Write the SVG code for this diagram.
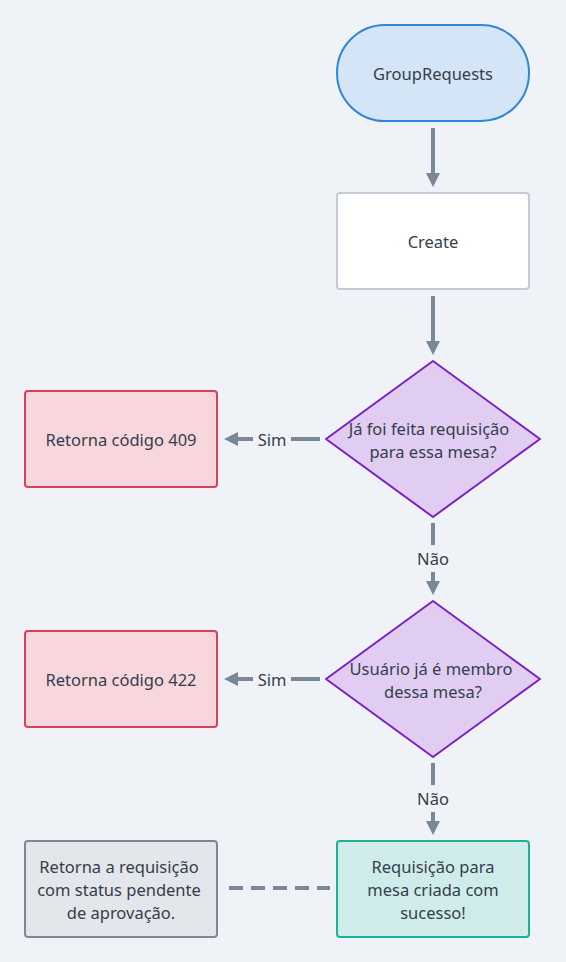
<svg xmlns="http://www.w3.org/2000/svg" width="566" height="962" viewBox="0 0 566 962">
<defs>
<style>
text{font-family:"Noto Sans","Liberation Sans",sans-serif;font-size:16.5px;fill:#343e4b;text-anchor:middle;dominant-baseline:central}
.e{stroke:#7a8796;stroke-width:4;fill:none}
</style>
<marker id="ah" viewBox="0 0 10 10" refX="5" refY="5" markerWidth="3.5" markerHeight="3.5" orient="auto" markerUnits="strokeWidth">
<path d="M0,0 L10,5 L0,10 Z" fill="#7a8796"/>
</marker>
</defs>
<rect width="566" height="962" fill="#eff3f7"/>
<g id="connectors">
<line class="e" x1="433" y1="128" x2="433" y2="180" marker-end="url(#ah)"/>
<line class="e" x1="433" y1="296" x2="433" y2="348" marker-end="url(#ah)"/>
<line class="e" x1="320" y1="439" x2="291" y2="439"/>
<line class="e" x1="253" y1="439" x2="231" y2="439" marker-end="url(#ah)"/>
<text x="272" y="439">Sim</text>
<line class="e" x1="433" y1="523" x2="433" y2="545"/>
<line class="e" x1="433" y1="572" x2="433" y2="588" marker-end="url(#ah)"/>
<text x="433" y="558">Não</text>
<line class="e" x1="320" y1="679" x2="291" y2="679"/>
<line class="e" x1="253" y1="679" x2="231" y2="679" marker-end="url(#ah)"/>
<text x="272" y="679">Sim</text>
<line class="e" x1="433" y1="763" x2="433" y2="785"/>
<line class="e" x1="433" y1="812" x2="433" y2="828" marker-end="url(#ah)"/>
<text x="433" y="798">Não</text>
<line class="e" x1="229" y1="888" x2="330" y2="888" stroke-dasharray="14,8"/>
</g>
<g id="n-grouprequests">
<rect x="337" y="25" width="192" height="96" rx="48" fill="#d3e5f7" stroke="#2f86d6" stroke-width="2"/>
<text x="433" y="73">GroupRequests</text>
</g>
<g id="n-create">
<rect x="337" y="193" width="192" height="96" rx="3" fill="#ffffff" stroke="#c1ccd8" stroke-width="2"/>
<text x="433" y="241">Create</text>
</g>
<g id="n-d1">
<path d="M433,361 L540,439 L433,517 L326,439 Z" fill="#e2cdf2" stroke="#7b1fc6" stroke-width="2" stroke-linejoin="round"/>
<text x="429" y="428">Já foi feita requisição</text>
<text x="433" y="451">para essa mesa?</text>
</g>
<g id="n-409">
<rect x="25" y="391" width="192" height="96" rx="3" fill="#f8d7dc" stroke="#d8415b" stroke-width="2"/>
<text x="121" y="439">Retorna código 409</text>
</g>
<g id="n-d2">
<path d="M433,601 L540,679 L433,757 L326,679 Z" fill="#e2cdf2" stroke="#7b1fc6" stroke-width="2" stroke-linejoin="round"/>
<text x="431" y="668">Usuário já é membro</text>
<text x="433" y="691">dessa mesa?</text>
</g>
<g id="n-422">
<rect x="25" y="631" width="192" height="96" rx="3" fill="#f8d7dc" stroke="#d8415b" stroke-width="2"/>
<text x="121" y="679">Retorna código 422</text>
</g>
<g id="n-success">
<rect x="337" y="841" width="192" height="96" rx="3" fill="#cfeceb" stroke="#1fb09c" stroke-width="2"/>
<text x="433" y="866">Requisição para</text>
<text x="433" y="889">mesa criada com</text>
<text x="433" y="912">sucesso!</text>
</g>
<g id="n-pending">
<rect x="25" y="841" width="192" height="96" rx="3" fill="#e3e6ea" stroke="#7c8898" stroke-width="2"/>
<text x="119" y="866">Retorna a requisição</text>
<text x="119" y="889">com status pendente</text>
<text x="121" y="912">de aprovação.</text>
</g>
</svg>
